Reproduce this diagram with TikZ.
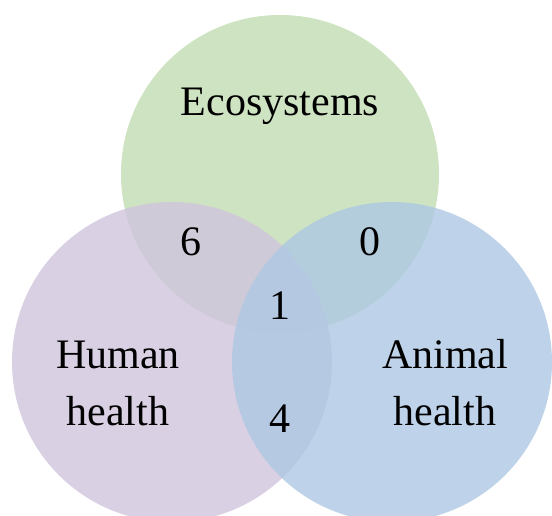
\documentclass[tikz,border=0pt]{standalone}
\usepackage{fontspec}
\setmainfont{Liberation Serif}
\definecolor{ecoG}{RGB}{206,227,193}
\definecolor{humP}{RGB}{208,196,221}
\definecolor{aniB}{RGB}{174,200,228}
\begin{document}
\begin{tikzpicture}[x=1pt,y=-1pt,
  lbl/.style={font=\fontsize{42}{57}\selectfont, inner sep=0pt, anchor=base, align=center},
  num/.style={font=\fontsize{42}{50}\selectfont, inner sep=0pt, anchor=base}]
\useasboundingbox (0,0) rectangle (552,515);
\fill[ecoG] (280,174) circle[radius=159];
\fill[humP, fill opacity=0.8] (172,362) circle[radius=160];
\fill[aniB, fill opacity=0.8] (392,362) circle[radius=160];
\node[lbl] (eco) at (280,115) {Ecosystems};
\node[lbl] (hum) at (118,425) {Human\\health};
\node[lbl] (ani) at (445,425) {Animal\\health};
\node[num] (n6) at (191,255) {6};
\node[num] (n0) at (370,255) {0};
\node[num] (n1) at (280,319) {1};
\node[num] (n4) at (280,432) {4};
\end{tikzpicture}
\end{document}
